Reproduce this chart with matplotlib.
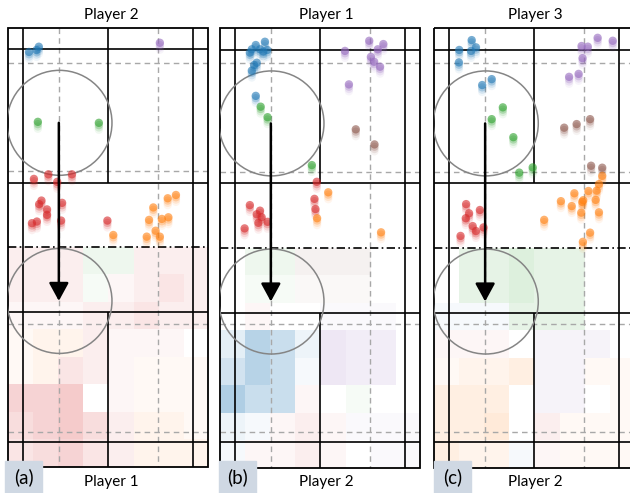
import numpy as np
import matplotlib
matplotlib.use("Agg")
import matplotlib.pyplot as plt
from matplotlib.colors import to_rgb
from matplotlib.patches import Circle, Rectangle

plt.rcParams["font.family"] = ["Lato", "DejaVu Sans"]

# court geometry in metres
COURT_W, COURT_L = 6.1, 13.4
NET_Y = 6.7
SOLID_Y = [0.66, 4.72, 8.68, 12.62]
DASH_Y = [1.07, 4.37, 9.02, 12.32]
DASH_X = [1.55, 4.57]
SIDE_X = [0.46, 5.64]

PALETTE = {"b": "#1f77b4", "o": "#ff7f0e", "g": "#2ca02c",
           "r": "#d62728", "p": "#9467bd", "n": "#8c564b"}

# player positions (metres from the far baseline / left sideline)
A_x = [0.64, 0.87, 0.94, 4.63, 0.91, 2.77,
       1.23, 1.95, 0.79, 1.50, 1.02, 0.95, 1.65, 1.19, 1.19, 0.73, 0.88, 1.62, 3.03,
       5.12, 4.87, 4.43, 4.30, 4.69, 4.89, 4.50, 4.23, 4.63, 3.21]
A_y = [0.74, 0.68, 0.58, 0.46, 2.87, 2.90,
       4.47, 4.47, 4.61, 4.70, 5.27, 5.38, 5.34, 5.54, 5.71, 5.96, 5.91, 5.88, 5.88,
       5.10, 5.20, 5.48, 5.86, 5.83, 5.78, 6.19, 6.37, 6.37, 6.32]
A_c = "bbbpgg" + "r" * 13 + "o" * 10

B_x = [1.37, 1.09, 0.97, 0.91, 1.22, 1.32, 1.44, 1.12, 1.04, 0.97, 1.09,
       1.24, 1.45, 2.80,
       3.81, 4.55, 4.98, 4.81, 4.60, 4.70, 4.88, 3.93,
       4.14, 4.71,
       2.95, 2.88, 2.91, 0.91, 1.22, 1.12, 1.27, 1.17, 1.45, 0.75,
       3.30, 2.96, 4.91]
B_y = [0.41, 0.51, 0.64, 0.74, 0.64, 0.71, 0.66, 1.05, 1.12, 1.29, 2.06,
       2.39, 2.71, 4.17,
       0.69, 0.38, 0.48, 0.64, 0.87, 1.02, 1.17, 1.71,
       3.08, 3.54,
       4.68, 5.20, 5.51, 5.39, 5.56, 5.67, 5.76, 5.93, 5.90, 6.10,
       5.00, 5.79, 6.22]
B_c = "b" * 11 + "ggg" + "p" * 8 + "nn" + "r" * 10 + "ooo"

C_x = [1.14, 0.76, 1.12, 1.27, 0.75, 1.46, 1.75,
       4.98, 5.44, 4.49, 4.68, 4.52, 4.11, 4.40,
       3.96, 4.34, 4.75, 4.78, 5.12,
       2.09, 1.75, 2.41, 2.59, 3.00,
       0.97, 1.06, 0.96, 1.39, 1.17, 1.27, 1.50, 0.80,
       5.12, 5.02, 4.95, 4.70, 4.27, 3.86, 4.19, 4.51, 4.92, 4.48, 5.02, 3.35, 4.75,
       4.53, 4.54]
C_y = [0.36, 0.66, 0.69, 0.58, 1.04, 1.73, 1.55,
       0.29, 0.38, 0.54, 0.56, 0.91, 1.48, 1.39,
       3.03, 2.92, 2.77, 4.19, 4.25,
       2.41, 2.77, 3.32, 4.40, 4.24,
       5.36, 5.64, 5.79, 5.54, 6.03, 6.18, 6.07, 6.33,
       4.50, 4.75, 4.95, 4.96, 5.03, 5.27, 5.42, 5.29, 5.23, 5.62, 5.61, 5.84, 6.23,
       6.51, 5.24]
C_c = "b" * 7 + "p" * 7 + "n" * 5 + "g" * 5 + "r" * 8 + "o" * 15

# near-half occupancy grids: colour letter + strength (w = empty)
HEAT_A = ["r2 r2 r2 g2 g2 r2 r2 r2",
          "r2 r2 r2 g1 r1 r2 r3 r2",
          "r1 r1 r1 r2 r2 r3 r2 r2",
          "o1 o2 o2 r2 r1 r1 r1 w0",
          "o1 o2 r3 r2 r1 o1 o1 o1",
          "r5 r5 r6 w0 r1 o1 o1 o1",
          "r4 r5 r6 r4 r2 o2 o2 o1",
          "r3 r4 r5 r3 r2 o2 o2 o2"]
HEAT_B = ["w0 g2 g2 n2 n2 n2 w0 w0",
          "w0 g1 g1 n1 n1 n1 w0 w0",
          "w0 r1 w0 w0 p1 p1 p1 w0",
          "b3 b8 b6 b2 p4 p3 p3 w0",
          "b5 b8 b6 b1 p4 p3 p3 w0",
          "b9 b6 b6 r1 w0 g1 w0 w0",
          "b2 b1 r1 r2 r1 p1 p1 p1",
          "b1 r1 r1 r2 r1 w0 p1 p1"]
HEAT_C = ["w0 g3 g3 g4 g3 g3 w0 w0",
          "w0 g3 g3 g4 g3 g3 w0 w0",
          "b1 b1 b1 g3 g3 g3 w0 w0",
          "r1 r1 r1 w0 p2 p2 p2 w0",
          "o1 o2 o2 o3 p2 p2 o1 o1",
          "o3 o3 o3 w0 p2 p2 w0 o1",
          "o3 o3 o4 w0 r2 o1 o1 o1",
          "o3 o2 o2 b1 r1 o1 o1 o1"]

TOP_NAMES = ["Player 2", "Player 1", "Player 3"]
BOTTOM_NAMES = ["Player 1", "Player 2", "Player 2"]
TAGS = ["(a)", "(b)", "(c)"]

SHOT_FROM = (1.55, 2.9)
SHOT_TO = (1.55, 8.33)


def heat_rgba(rows):
    grid = np.zeros((len(rows), 8, 4))
    for i, row in enumerate(rows):
        for j, tok in enumerate(row.split()):
            if tok[0] != "w":
                grid[i, j, :3] = to_rgb(PALETTE[tok[0]])
                grid[i, j, 3] = int(tok[1]) * 0.04
    return grid


def draw_court(ax):
    W, L = COURT_W, COURT_L
    solid = dict(color="black", lw=1.2, zorder=3, clip_on=False,
                 solid_capstyle="butt")
    dashed = dict(color="#a8a8a8", lw=1.0, ls=(0, (4, 3)), zorder=2)
    for y in DASH_Y:
        ax.plot([0, W], [y, y], **dashed)
    for x in DASH_X:
        ax.plot([x, x], [0, L], **dashed)
    ax.add_patch(Rectangle((0, 0), W, L, fill=False, ec="black", lw=1.3,
                           zorder=3, clip_on=False))
    for x in SIDE_X:
        ax.plot([x, x], [0, L], **solid)
    for y in SOLID_Y:
        ax.plot([0, W], [y, y], **solid)
    ax.plot([W / 2, W / 2], [0, SOLID_Y[1]], **solid)
    ax.plot([W / 2, W / 2], [SOLID_Y[2], L], **solid)
    ax.plot([0, W], [NET_Y, NET_Y], color="black", lw=1.2,
            ls=(0, (5, 2, 1, 2)), zorder=3, clip_on=False)


def draw_players(ax, xs, ys, codes):
    xs = np.asarray(xs)
    ys = np.asarray(ys)
    cols = [PALETTE[c] for c in codes]
    # fading trail underneath each position
    for k, a in ((3, 0.07), (2, 0.13), (1, 0.25)):
        ax.scatter(xs, ys + k * 0.07, s=36, c=cols, alpha=a,
                   linewidths=0, zorder=5)
    ax.scatter(xs, ys, s=36, c=cols, alpha=0.6, linewidths=0, zorder=6)


fig = plt.figure(figsize=(6.3, 4.93), dpi=100)
FW, FH = 630.0, 493.0
panel_left = [8.0, 220.0, 434.3]
panel_top = [27.7, 28.3, 28.3]
name_cx = [111, 326, 535]
tag_left = [5, 219, 434]
players = [(A_x, A_y, A_c), (B_x, B_y, B_c), (C_x, C_y, C_c)]
heats = [HEAT_A, HEAT_B, HEAT_C]
scale = 32.8  # px per metre

for i in range(3):
    w_px = COURT_W * scale
    h_px = COURT_L * scale
    ax = fig.add_axes([panel_left[i] / FW, 1 - (panel_top[i] + h_px) / FH,
                       w_px / FW, h_px / FH])
    ax.set_xlim(0, COURT_W)
    ax.set_ylim(COURT_L, 0)
    ax.set_axis_off()

    ax.imshow(heat_rgba(heats[i]), extent=(0, COURT_W, COURT_L, NET_Y),
              origin="upper", interpolation="nearest", aspect="auto", zorder=0)
    draw_court(ax)

    for c in (SHOT_FROM, SHOT_TO):
        ax.add_patch(Circle((c[0] + 0.02, c[1]), 1.6, fill=False,
                            ec="#858585", lw=1.1, zorder=4))
    ax.annotate("", xy=SHOT_TO, xytext=SHOT_FROM,
                arrowprops=dict(arrowstyle="-|>,head_length=0.55,head_width=0.3",
                                mutation_scale=20, lw=1.8, color="black",
                                shrinkA=0, shrinkB=0), zorder=7)

    draw_players(ax, *players[i])

    fig.text(name_cx[i] / FW, 1 - 15 / FH, TOP_NAMES[i], ha="center",
             va="center", fontsize=11)
    fig.text(name_cx[i] / FW, 1 - 482 / FH, BOTTOM_NAMES[i], ha="center",
             va="center", fontsize=11)
    fig.patches.append(Rectangle((tag_left[i] / FW, 0), 37 / FW, 32 / FH,
                                 transform=fig.transFigure, color="#cfd8e3",
                                 zorder=8))
    fig.text((tag_left[i] + 18.5) / FW, 1 - 477 / FH, TAGS[i], ha="center",
             va="center", fontsize=13.5, zorder=9)

fig.savefig("out.png", dpi=100)
